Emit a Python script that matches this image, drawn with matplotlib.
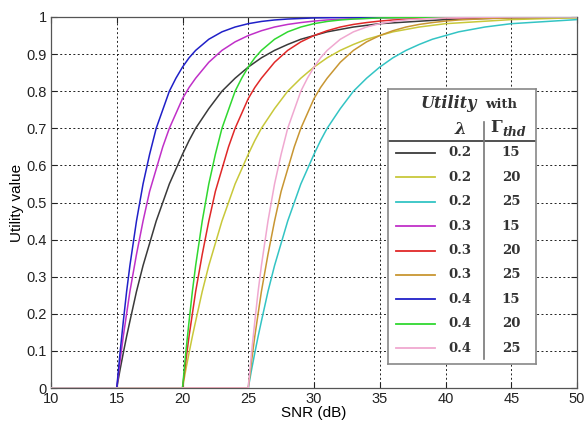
import numpy as np
import matplotlib
matplotlib.use("Agg")
import matplotlib.pyplot as plt

# ---- data ----
# utility value vs. SNR offset above threshold (dB), per lambda
offsets = [0, 0.25, 0.5, 0.75, 1, 1.5, 2, 2.5, 3, 3.5, 4, 4.5, 5, 5.5, 6,
           7, 8, 9, 10, 11, 12, 13, 14, 15, 16, 18, 20, 25, 30, 35]
util_l02 = [0, 0.049, 0.095, 0.139, 0.18, 0.26, 0.33, 0.39, 0.45, 0.50, 0.55, 0.59, 0.63,
            0.667, 0.70, 0.753, 0.80, 0.835, 0.865, 0.89, 0.91, 0.926, 0.94, 0.95, 0.96,
            0.973, 0.982, 0.993, 0.998, 0.999]
util_l03 = [0, 0.072, 0.14, 0.20, 0.26, 0.36, 0.45, 0.53, 0.59, 0.65, 0.70, 0.74, 0.78,
            0.81, 0.835, 0.878, 0.91, 0.933, 0.95, 0.963, 0.973, 0.98, 0.985, 0.989, 0.992,
            0.9955, 0.9975, 0.9995, 1.0, 1.0]
util_l04 = [0, 0.095, 0.18, 0.26, 0.33, 0.45, 0.55, 0.63, 0.70, 0.75, 0.80, 0.835, 0.865,
            0.89, 0.91, 0.94, 0.96, 0.973, 0.982, 0.988, 0.992, 0.9945, 0.996, 0.9975, 0.998,
            0.9993, 0.9997, 1.0, 1.0, 1.0]

lambdas = ["0.2", "0.2", "0.2", "0.3", "0.3", "0.3", "0.4", "0.4", "0.4"]
thresholds = [15, 20, 25, 15, 20, 25, 15, 20, 25]
colors = ["#3a3a3a", "#c8c83a", "#33c4c4", "#c030c8", "#e02828",
          "#c89632", "#2020c8", "#30d830", "#f0a8d0"]
curves = {"0.2": util_l02, "0.3": util_l03, "0.4": util_l04}

x_ticks = [10, 15, 20, 25, 30, 35, 40, 45, 50]
y_ticks = [0, 0.1, 0.2, 0.3, 0.4, 0.5, 0.6, 0.7, 0.8, 0.9, 1]
y_ticklabels = ["0", "0.1", "0.2", "0.3", "0.4", "0.5", "0.6", "0.7", "0.8", "0.9", "1"]

plt.rcParams['font.family'] = ['Liberation Sans', 'DejaVu Sans']

fig = plt.figure(figsize=(5.84, 4.25), dpi=100)
ax = fig.add_axes([51/584, 1 - 388/425, (577-51)/584, (388-17)/425])

for lam, thd, col in zip(lambdas, thresholds, colors):
    xs = np.concatenate([[10], thd + np.array(offsets, dtype=float)])
    ys = np.concatenate([[0], np.array(curves[lam], dtype=float)])
    mask = xs <= 50
    ax.plot(xs[mask], ys[mask], color=col, lw=1.1, zorder=3)

ax.set_xlim(10, 50)
ax.set_ylim(0, 1)
ax.set_xticks(x_ticks)
ax.set_yticks(y_ticks)
ax.set_yticklabels(y_ticklabels)
ax.tick_params(direction='in', top=True, right=True, labelsize=10.5, length=4, pad=3,
               colors='#222222')
ax.grid(True, ls=(0, (2, 2.5)), color='#222222', lw=0.7)
for s in ax.spines.values():
    s.set_color('#555555')
    s.set_linewidth(0.9)
ax.set_xlabel("SNR (dB)", fontsize=11, labelpad=0)
ax.set_ylabel("Utility value", fontsize=11, labelpad=2)

# ---- custom table legend ----
lg = fig.add_axes([388/584, 1 - 364/425, (536-388)/584, (364-89)/425])
lg.set_xlim(388, 536)
lg.set_ylim(364, 89)
lg.set_xticks([]); lg.set_yticks([])
lg.set_facecolor('white')
for s in lg.spines.values():
    s.set_color('#888888')
    s.set_linewidth(1.2)
lg.set_zorder(5)

serif = ['DejaVu Serif']
tc = '#333333'
lg.text(449, 104, "Utility", fontsize=11.5, fontweight='bold', fontstyle='italic',
        ha='center', va='center', family=serif, color=tc)
lg.text(501, 105, "with", fontsize=9.5, fontweight='bold', ha='center', va='center',
        family=serif, color=tc)
lg.text(460, 129, "λ", fontsize=12, fontweight='bold', fontstyle='italic',
        ha='center', va='center', family=serif, color=tc)
lg.text(502, 128, "Γ", fontsize=12, fontweight='bold', ha='right', va='center',
        family=serif, color=tc)
lg.text(502, 133, "thd", fontsize=9, fontweight='bold', fontstyle='italic', ha='left',
        va='center', family=serif, color=tc)
lg.plot([388, 535], [141, 141], color='#333333', lw=1.2)
lg.plot([484, 484], [122, 359], color='#777777', lw=1.2)

y0, dy = 153, 24.4
for i, (lam, thd, col) in enumerate(zip(lambdas, thresholds, colors)):
    y = y0 + i * dy
    lg.plot([396, 435], [y, y], color=col, lw=1.3)
    lg.text(460, y, lam, fontsize=9.5, fontweight='bold', ha='center', va='center',
            family=serif, color=tc)
    lg.text(511, y, str(thd), fontsize=9.5, fontweight='bold', ha='center', va='center',
            family=serif, color=tc)

fig.savefig("out.png", dpi=100)
